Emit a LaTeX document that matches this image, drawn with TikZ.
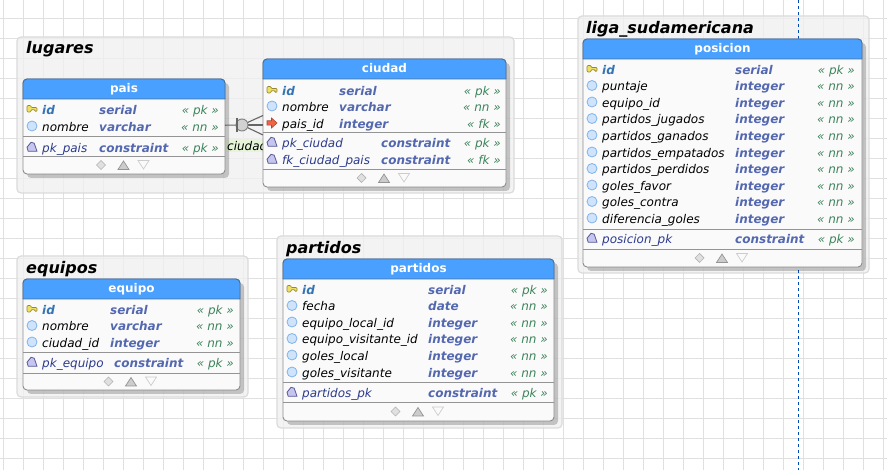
\documentclass[tikz,border=0pt]{standalone}
\usepackage{fontspec}
\setmainfont{DejaVu Sans}
\usepackage{xcolor}
\usepackage{tikz}
\usetikzlibrary{shadows,calc}

\definecolor{azulcab}{RGB}{74,160,255}
\definecolor{azulborde}{RGB}{70,110,155}
\definecolor{tipocol}{RGB}{84,104,176}
\definecolor{idcol}{RGB}{52,116,180}
\definecolor{ctrcol}{RGB}{44,58,140}
\definecolor{restrcol}{RGB}{62,132,92}
\definecolor{etiqcol}{RGB}{230,245,216}
\definecolor{puntocol}{RGB}{207,228,251}
\definecolor{puntoborde}{RGB}{127,179,234}
\definecolor{pentcol}{RGB}{197,197,240}
\definecolor{pentborde}{RGB}{90,90,150}
\definecolor{llavecol}{RGB}{238,224,100}
\definecolor{llaveborde}{RGB}{150,135,50}
\definecolor{flechacol}{RGB}{240,100,70}
\definecolor{flechaborde}{RGB}{170,70,50}

\tikzset{
    grupo/.style={draw=black!14, line width=1.2pt, fill=black!6, fill opacity=.8, rounded corners=4pt, anchor=north west, inner sep=0pt, outer sep=0pt},
    titulo/.style={anchor=base west, inner sep=0pt, font=\fontsize{16}{18}\selectfont\bfseries\itshape},
    tabla/.style={draw=black!45, line width=.9pt, fill=white!98!black, rounded corners=4pt, anchor=north west, inner sep=0pt, outer sep=0pt, drop shadow={shadow xshift=4pt, shadow yshift=-4pt, fill=black, opacity=.2}},
    cabecera/.style={draw=azulborde, line width=.9pt, fill=azulcab},
    nomtabla/.style={anchor=base, inner sep=0pt, text=white, font=\fontsize{12}{14}\selectfont\bfseries},
    separa/.style={draw=black!42, line width=.9pt},
    colpk/.style={anchor=base west, inner sep=0pt, text=idcol, font=\fontsize{12}{14}\selectfont\bfseries\itshape},
    colnor/.style={anchor=base west, inner sep=0pt, text=black, font=\fontsize{12}{14}\selectfont\itshape},
    colctr/.style={anchor=base west, inner sep=0pt, text=ctrcol, font=\fontsize{12}{14}\selectfont\itshape},
    tipo/.style={anchor=base west, inner sep=0pt, text=tipocol, font=\fontsize{12}{14}\selectfont\bfseries\itshape},
    restr/.style={anchor=base east, inner sep=0pt, text=restrcol, font=\fontsize{12}{14}\selectfont\itshape},
    rejilla/.style={draw=black!12, line width=.8pt},
    relacion/.style={draw=black!60, line width=1.1pt},
    cardinal/.style={circle, draw=black!50, fill=black!18, line width=.9pt, minimum size=12pt, inner sep=0pt},
    etiqueta/.style={anchor=west, fill=etiqcol, text=black, text width=46pt, minimum height=13pt, inner sep=1.5pt, align=left, font=\fontsize{12}{13}\selectfont\itshape},
    pics/llave/.style={code={
        \draw[draw=llaveborde, fill=llavecol, line width=.7pt, rounded corners=1pt] (-5,-3.5) -- (-1,-3.5) -- (-1,-1.5) -- (5,-1.5) -- (5,2.5) -- (3,2.5) -- (3,.7) -- (-1,.7) -- (-1,3) -- (-5,3) -- cycle;
    }},
    pics/punto/.style={code={
        \draw[draw=puntoborde, fill=puntocol, line width=.8pt] (0,0) circle (5);
    }},
    pics/flecha/.style={code={
        \draw[draw=flechaborde, fill=flechacol, line width=.6pt] (-5,-2.2) -- (-.5,-2.2) -- (-.5,-5) -- (5,0) -- (-.5,5) -- (-.5,2.2) -- (-5,2.2) -- cycle;
    }},
    pics/pent/.style={code={
        \draw[draw=pentborde, fill=pentcol, line width=.8pt] (-5,.3) -- (-1,-4.7) -- (2.2,-3.8) -- (5,4.3) -- (-3.8,4.3) -- cycle;
    }},
    pics/botones/.style={code={
        \draw[draw=black!30, fill=black!12, line width=.7pt] (-23,-4.5) -- (-18.5,0) -- (-23,4.5) -- (-27.5,0) -- cycle;
        \draw[draw=black!42, fill=black!20, line width=.7pt] (-6,4.5) -- (5,4.5) -- (-.5,-4) -- cycle;
        \draw[draw=black!20, fill=black!2, line width=.7pt] (14,-4.5) -- (25,-4.5) -- (19.5,4) -- cycle;
    }}
}

\newcommand{\filas}[5]{
    \foreach \est/\ico/\cam/\tip/\tx/\res/\y [count=\n] in {#5}{
        \pic at (#2,\y) {\ico};
        \node[style/.expanded=\est] (#1-c\n) at (#3,\y+5.5) {\cam};
        \node[tipo] (#1-t\n) at (\tx,\y+5.5) {\tip};
        \node[restr] (#1-r\n) at (#4,\y+5.5) {« \res\ »};
    }
}

\begin{document}
\begin{tikzpicture}[x=1pt, y=-1pt]
    \useasboundingbox (0,0) rectangle (887,470);
    \fill[white] (0,0) rectangle (887,470);
    \foreach \gx in {3.5,23.5,...,883.5} \draw[rejilla] (\gx,0) -- (\gx,470);
    \foreach \gy in {18.5,38.5,...,458.5} \draw[rejilla] (0,\gy) -- (887,\gy);

    \foreach \nom/\xa/\ya/\xb/\yb in {lugares/17/37/514/193, liga/578/16/869/273, equipos/17/256/248/397, partidos/277/236/562/428}
        \node[grupo, minimum width=(\xb-\xa)*1pt, minimum height=(\yb-\ya)*1pt] (g-\nom) at (\xa,\ya) {};
    \node[titulo] (t-lugares) at (26,53.3) {lugares};
    \node[titulo] (t-liga) at (586,33.3) {liga\_sudamericana};
    \node[titulo] (t-equipos) at (26,273.3) {equipos};
    \node[titulo] (t-partidos) at (286,253.3) {partidos};

    \coordinate (pag-a) at (798.5,0);
    \coordinate (pag-b) at (798.5,470);
    \draw[draw=blue!60!cyan!70!black, line width=.8pt, dashed] (pag-a) -- (pag-b);

    \node[etiqueta] (rel-nom) at (225.5,146) {ciudad};

    \foreach \tab/\xa/\ya/\xb/\yb/\sa/\sb in {pais/23/79/225/174/136/156, ciudad/263/59/506/187/132/169, posicion/583/39/862/267/229/249, equipo/23/279/240/390/352/373, partidos/283/259/554/421/382/402}{
        \node[tabla, minimum width=(\xb-\xa)*1pt, minimum height=(\yb-\ya)*1pt] (\tab) at (\xa,\ya) {};
        \draw[cabecera, rounded corners=4pt] (\xa,\ya+20) -- (\xa,\ya) -- (\xb,\ya) [sharp corners] -- (\xb,\ya+20) -- cycle;
        \node[nomtabla] (\tab-h) at ({(\xa+\xb)/2},\ya+14) {\tab};
        \draw[separa] (\tab.west |- 0,\sa) -- (\tab.east |- 0,\sa);
        \draw[separa] (\tab.west |- 0,\sb) -- (\tab.east |- 0,\sb);
        \pic at ({(\xa+\xb)/2},{(\sb+\yb)/2}) {botones};
    }

    \filas{pais}{32}{42}{219}{colpk/llave/id/serial/99/pk/109, colnor/punto/nombre/varchar/99/nn/126, colctr/pent/pk\_pais/constraint/99/pk/147}
    \filas{ciudad}{272}{282}{501}{colpk/llave/id/serial/339/pk/90, colnor/punto/nombre/varchar/339/nn/106, colnor/flecha/pais\_id/integer/339/fk/123, colctr/pent/pk\_ciudad/constraint/381/pk/142, colctr/pent/fk\_ciudad\_pais/constraint/381/fk/159}
    \filas{posicion}{592}{602}{855}{colpk/llave/id/serial/735/pk/69, colnor/punto/puntaje/integer/735/nn/85.5, colnor/punto/equipo\_id/integer/735/nn/102, colnor/punto/partidos\_jugados/integer/735/nn/118.5, colnor/punto/partidos\_ganados/integer/735/nn/135, colnor/punto/partidos\_empatados/integer/735/nn/152, colnor/punto/partidos\_perdidos/integer/735/nn/168.5, colnor/punto/goles\_favor/integer/735/nn/185, colnor/punto/goles\_contra/integer/735/nn/201.5, colnor/punto/diferencia\_goles/integer/735/nn/218, colctr/pent/posicion\_pk/constraint/735/pk/238}
    \filas{equipo}{32}{42}{234}{colpk/llave/id/serial/110/pk/309, colnor/punto/nombre/varchar/110/nn/325.5, colnor/punto/ciudad\_id/integer/110/nn/342, colctr/pent/pk\_equipo/constraint/114/pk/362}
    \filas{partidos}{292}{302}{548}{colpk/llave/id/serial/428/pk/289, colnor/punto/fecha/date/428/nn/305.5, colnor/punto/equipo\_local\_id/integer/428/nn/322, colnor/punto/equipo\_visitante\_id/integer/428/nn/338.5, colnor/punto/goles\_local/integer/428/nn/355, colnor/punto/goles\_visitante/integer/428/nn/372, colctr/pent/partidos\_pk/constraint/428/pk/392}

    \coordinate (barra-a) at (237,118);
    \coordinate (barra-b) at (237,132);
    \coordinate (pata-a) at (ciudad.west |- 0,115.5);
    \coordinate (pata-b) at (ciudad.west |- 0,125);
    \coordinate (pata-c) at (ciudad.west |- 0,135);
    \coordinate (apex) at (242,125);
    \draw[relacion] (pais) -- (apex);
    \draw[relacion] (apex) -- (pata-a);
    \draw[relacion] (apex) -- (pata-b);
    \draw[relacion] (apex) -- (pata-c);
    \node[cardinal] (card) at (apex) {};
    \draw[relacion, line width=1.6pt] (barra-a) -- (barra-b);
\end{tikzpicture}
\end{document}
